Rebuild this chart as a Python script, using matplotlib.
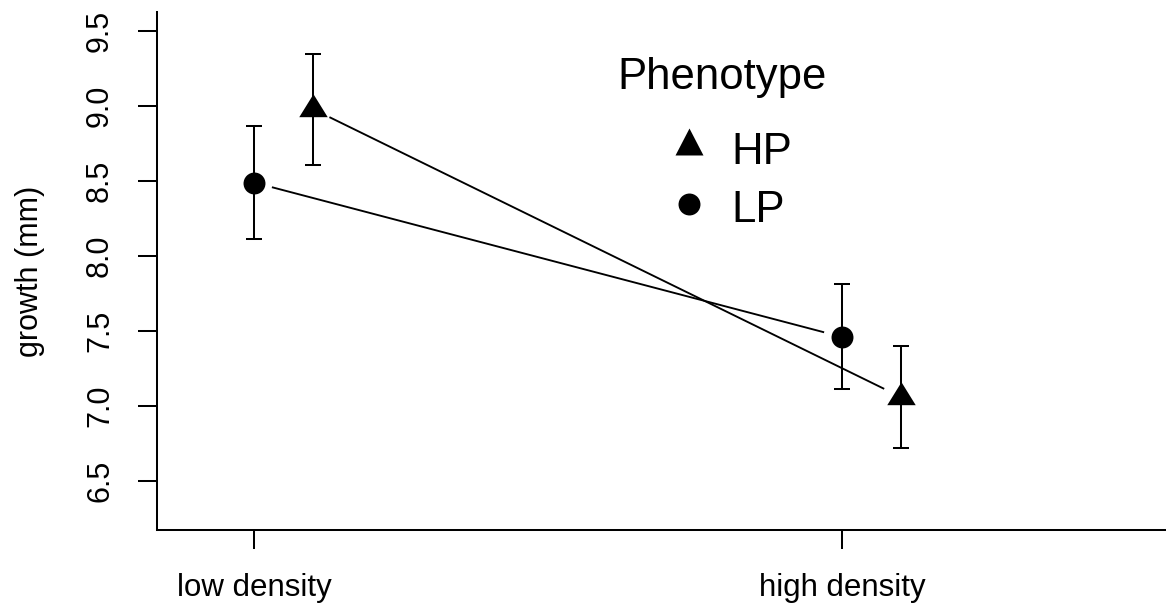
import numpy as np
import matplotlib
matplotlib.use("Agg")
import matplotlib.pyplot as plt
from matplotlib.path import Path
from matplotlib.transforms import Affine2D, blended_transform_factory

W, H, DPI = 1166, 607, 100

# growth means and standard errors per density treatment
conditions = ["low density", "high density"]
hp_mean = [8.98, 7.06]
hp_se = [0.37, 0.34]
lp_mean = [8.49, 7.46]
lp_se = [0.375, 0.35]
y_ticks = [6.5, 7.0, 7.5, 8.0, 8.5, 9.0, 9.5]
y_tick_labels = ["6.5", "7.0", "7.5", "8.0", "8.5", "9.0", "9.5"]
legend_title = "Phenotype"
legend_labels = ["HP", "LP"]

plt.rcParams["font.family"] = ["Liberation Sans", "DejaVu Sans"]

fig = plt.figure(figsize=(W / DPI, H / DPI), dpi=DPI)
ax = fig.add_axes([157 / W, (H - 530) / H, (W - 157) / W, (530 - 12) / H])
ax.set_xlim(0.835, 2.551)
ax.set_ylim(6.1733, 9.6267)

# pixel coordinates measured from the top-left corner of the figure
px = Affine2D().scale(1 / W, -1 / H).translate(0, 1) + fig.transFigure

LW = 1.45
x_base = np.arange(1, len(conditions) + 1, dtype=float)
x_hp = x_base + 0.1
x_lp = x_base

# filled triangle with its centroid on the data point
tri = Path([(0, 15.3), (14.25, -7.7), (-14.25, -7.7), (0, 15.3)], closed=True)
tri_leg = Path([(0, 18), (14, -9), (-14, -9), (0, 18)], closed=True)


def gapped_line(xs, ys, gap_px=18.5, **kw):
    pts = ax.transData.transform(np.column_stack([xs, ys]))
    inv = ax.transData.inverted()
    for a, b in zip(pts[:-1], pts[1:]):
        d = b - a
        u = d / np.hypot(*d)
        seg = inv.transform(np.array([a + u * gap_px, b - u * gap_px]))
        ax.plot(seg[:, 0], seg[:, 1], color="black", lw=1.35,
                solid_capstyle="butt", zorder=2)


gapped_line(x_lp, lp_mean)
gapped_line(x_hp, hp_mean)

ax.errorbar(x_lp, lp_mean, yerr=lp_se, fmt="none", ecolor="black",
            elinewidth=LW, capsize=6.1, capthick=LW, zorder=3)
ax.errorbar(x_hp, hp_mean, yerr=hp_se, fmt="none", ecolor="black",
            elinewidth=LW, capsize=6.1, capthick=LW, zorder=3)

ax.plot(x_lp, lp_mean, linestyle="none", marker="o", ms=15.8,
        mfc="black", mec="black", mew=0, zorder=4)
ax.plot(x_hp, hp_mean, linestyle="none", marker=tri, ms=22.0,
        mfc="black", mec="black", mew=0, zorder=4)

# axes: L-shaped frame, labels drawn as text
for s in ["top", "right"]:
    ax.spines[s].set_visible(False)
for s in ["left", "bottom"]:
    ax.spines[s].set_linewidth(LW)
ax.set_yticks(y_ticks)
ax.set_yticklabels([])
ax.set_xticks(x_base)
ax.set_xticklabels([])
ax.tick_params(direction="out", length=13.7, width=LW, color="black")

ytr = blended_transform_factory(px, ax.transData)
for v, lab in zip(y_ticks, y_tick_labels):
    ax.text(115, v, lab, transform=ytr, rotation=90, ha="right", va="center",
            fontsize=22, clip_on=False)

xtr = blended_transform_factory(ax.transData, px)
for x, lab in zip(x_base, conditions):
    ax.text(x, 596, lab, transform=xtr, ha="center", va="baseline",
            fontsize=22.5, clip_on=False)

fig.text(30 / W, 1 - 271 / H, "growth (mm)", rotation=90, ha="center",
         va="center", fontsize=22)

# legend
fig.text(617 / W, 1 - 89 / H, legend_title, ha="left", va="baseline",
         fontsize=31.5)
ax.plot([689], [146], transform=px, marker=tri_leg, ms=25.9, mfc="black",
        mew=0, linestyle="none", clip_on=False)
ax.plot([689], [204], transform=px, marker="o", ms=15.8, mfc="black",
        mew=0, linestyle="none", clip_on=False)
fig.text(731 / W, 1 - 164 / H, legend_labels[0], ha="left", va="baseline",
         fontsize=31.5)
fig.text(731 / W, 1 - 221.7 / H, legend_labels[1], ha="left", va="baseline",
         fontsize=31.5)

fig.savefig("out.png", dpi=DPI, facecolor="white")
